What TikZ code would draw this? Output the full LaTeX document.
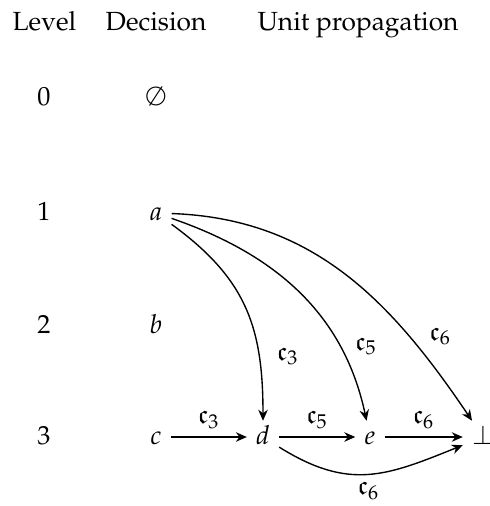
\documentclass[tikz,border=0pt]{standalone}
\usepackage[T1]{fontenc}
\usepackage{mathpazo}
\usepackage{amssymb}
\usetikzlibrary{arrows.meta}
\begin{document}
\begin{tikzpicture}[x=0.4pt,y=-0.4pt,
  every node/.style={font=\fontsize{10.5}{12.6}\selectfont},
  head/.style={anchor=base, inner sep=0pt},
  vtx/.style={inner sep=3.5pt, text height=5.6pt, text depth=0pt},
  lbl/.style={inner sep=3pt},
  arr/.style={-{Stealth[length=4.4pt,width=3.8pt]}, line width=0.55pt}]
\useasboundingbox (0,0) rectangle (490,506);
% headers
\node[head] (hl) at (44.5,31) {Level};
\node[head] (hd) at (156,31) {Decision};
\node[head] (hu) at (358,31) {Unit propagation};
% levels
\node[head] (l0) at (44,106) {0};
\node[head] (l1) at (44,220) {1};
\node[head] (l2) at (44,333) {2};
\node[head] (l3) at (44,444) {3};
% decisions
\node[head] (emp) at (156,106) {$\emptyset$};
\node[vtx] (a) at (156,213) {$a$};
\node[head] (b) at (156,333) {$b$};
\node[vtx] (c) at (156,437) {$c$};
\node[vtx] (d) at (263,437) {$d$};
\node[vtx] (e) at (370,437) {$e$};
\node[vtx] (f) at (483,437) {$\bot$};
% row edges
\draw[arr] (c) -- node[lbl, above] {$\mathfrak{c}_3$} (d);
\draw[arr] (d) -- node[lbl, above] {$\mathfrak{c}_5$} (e);
\draw[arr] (e) -- node[lbl, above] {$\mathfrak{c}_6$} (f);
\draw[arr] (d) to[out=-32, in=-158, looseness=1.15] node[lbl, below, pos=0.5] {$\mathfrak{c}_6$} (f);
% curved edges from a
\draw[arr] (a) to[out=-36, in=90, looseness=1.1] node[lbl, pos=0.74, right=4pt] {$\mathfrak{c}_3$} (d);
\draw[arr] (a) to[out=-19, in=102] node[lbl, pos=0.74, right=3pt] {$\mathfrak{c}_5$} (e);
\draw[arr] (a) to[out=-2, in=124] node[lbl, pos=0.74, right=5pt] {$\mathfrak{c}_6$} (f);
\end{tikzpicture}
\end{document}
